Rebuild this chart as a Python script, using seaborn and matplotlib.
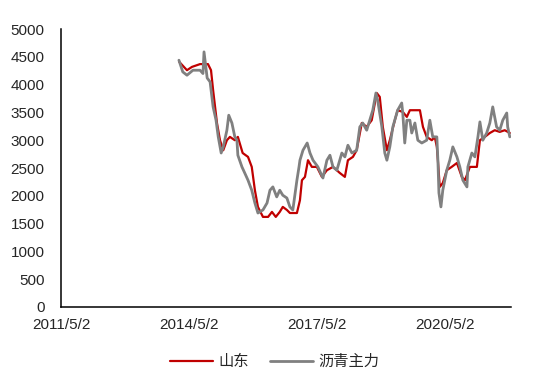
import pandas as pd
import matplotlib
matplotlib.use('Agg')
import matplotlib.pyplot as plt
import matplotlib.dates as mdates
import seaborn as sns

# 山东 (red)
sd_dates = ['2014-02-08', '2014-04-15', '2014-05-28', '2014-08-05', '2014-10-12', '2014-11-07',
            '2014-11-25', '2014-12-28', '2015-01-23', '2015-02-20', '2015-03-23', '2015-04-18',
            '2015-05-30', '2015-06-25', '2015-08-05', '2015-09-20', '2015-10-22', '2015-11-18',
            '2015-12-14', '2016-01-26', '2016-03-10', '2016-04-12', '2016-05-15', '2016-06-18',
            '2016-07-14', '2016-08-18', '2016-09-13', '2016-11-12', '2016-12-08', '2016-12-25',
            '2017-01-20', '2017-02-15', '2017-03-20', '2017-05-02', '2017-06-14', '2017-07-27',
            '2017-09-17', '2017-11-15', '2017-12-28', '2018-01-23', '2018-03-07', '2018-04-08',
            '2018-05-22', '2018-07-03', '2018-08-15', '2018-09-27', '2018-10-23', '2018-11-18',
            '2018-12-23', '2019-01-17', '2019-03-01', '2019-03-25', '2019-05-08', '2019-06-12',
            '2019-07-08', '2019-10-02', '2019-10-28', '2019-11-29', '2020-01-12', '2020-02-06',
            '2020-02-24', '2020-03-04', '2020-03-20', '2020-04-15', '2020-05-19', '2020-06-30',
            '2020-08-14', '2020-09-25', '2020-10-22', '2020-12-03', '2021-02-01', '2021-02-27',
            '2021-04-10', '2021-05-23', '2021-07-04', '2021-08-16', '2021-09-28', '2021-11-10']
sd_values = [4410, 4260, 4320, 4370, 4370, 4260,
             3900, 3310, 3000, 2820, 3000, 3060,
             3000, 3060, 2770, 2700, 2520, 2100,
             1800, 1620, 1620, 1710, 1620, 1710,
             1800, 1745, 1690, 1690, 1920, 2280,
             2340, 2640, 2520, 2520, 2340, 2460,
             2520, 2410, 2340, 2640, 2700, 2820,
             3310, 3240, 3360, 3850, 3780, 3240,
             2820, 3000, 3360, 3540, 3510, 3420,
             3540, 3540, 3240, 3060, 3000, 3060,
             2880, 2640, 2160, 2230, 2460, 2520,
             2590, 2340, 2280, 2520, 2520, 3000,
             3060, 3130, 3180, 3150, 3180, 3130]

# 沥青主力 (gray)
lq_dates = ['2014-02-05', '2014-03-10', '2014-04-15', '2014-06-05', '2014-08-05', '2014-08-30',
            '2014-09-08', '2014-10-05', '2014-10-30', '2014-11-25', '2014-12-20', '2015-01-08',
            '2015-02-02', '2015-02-20', '2015-03-23', '2015-04-08', '2015-05-05', '2015-05-30',
            '2015-06-17', '2015-06-25', '2015-07-30', '2015-08-23', '2015-09-20', '2015-10-22',
            '2015-11-18', '2015-12-14', '2016-01-26', '2016-03-01', '2016-03-26', '2016-04-20',
            '2016-05-23', '2016-06-18', '2016-07-14', '2016-08-18', '2016-09-13', '2016-10-08',
            '2016-11-12', '2016-11-30', '2016-12-08', '2017-01-03', '2017-02-08', '2017-03-04',
            '2017-03-30', '2017-05-11', '2017-06-23', '2017-07-27', '2017-08-22', '2017-09-17',
            '2017-10-20', '2017-12-02', '2017-12-28', '2018-01-23', '2018-02-26', '2018-04-08',
            '2018-05-05', '2018-05-30', '2018-07-03', '2018-07-29', '2018-08-24', '2018-09-20',
            '2018-10-05', '2018-11-10', '2018-12-05', '2018-12-23', '2019-01-17', '2019-02-12',
            '2019-03-25', '2019-04-29', '2019-05-08', '2019-05-25', '2019-06-12', '2019-07-08',
            '2019-07-24', '2019-08-20', '2019-09-14', '2019-10-18', '2019-11-29', '2019-12-26',
            '2020-01-20', '2020-02-24', '2020-03-04', '2020-03-13', '2020-03-30', '2020-04-15',
            '2020-05-19', '2020-06-14', '2020-07-10', '2020-08-14', '2020-09-08', '2020-10-04',
            '2020-11-08', '2020-11-16', '2020-12-20', '2021-01-15', '2021-02-10', '2021-02-27',
            '2021-03-24', '2021-04-26', '2021-05-23', '2021-06-17', '2021-07-20', '2021-08-16',
            '2021-09-11', '2021-10-15', '2021-10-23', '2021-11-10']
lq_values = [4440, 4230, 4170, 4260, 4260, 4200,
             4590, 4120, 4050, 3600, 3360, 3060,
             2770, 2880, 3180, 3450, 3310, 3060,
             3000, 2730, 2520, 2410, 2280, 2100,
             1870, 1690, 1745, 1870, 2100, 2160,
             1980, 2100, 2010, 1960, 1800, 1745,
             2280, 2520, 2640, 2820, 2950, 2770,
             2640, 2520, 2320, 2640, 2730, 2520,
             2460, 2770, 2700, 2910, 2770, 2820,
             3240, 3310, 3180, 3360, 3540, 3850,
             3720, 3240, 2770, 2640, 2880, 3240,
             3540, 3670, 3490, 2950, 3360, 3360,
             3130, 3310, 3000, 2950, 3000, 3360,
             3060, 3060, 2640, 2050, 1800, 2100,
             2460, 2640, 2880, 2700, 2520, 2280,
             2160, 2520, 2770, 2700, 3060, 3330,
             3000, 3130, 3310, 3600, 3240, 3180,
             3360, 3490, 3240, 3060]

tick_dates = ['2011-05-02', '2014-05-02', '2017-05-02', '2020-05-02']
x_range = ['2011-05-02', '2021-11-20']

sns.set_style("white")
plt.rcParams['font.family'] = ['Liberation Sans', 'Noto Sans CJK SC', 'DejaVu Sans']
plt.rcParams['axes.unicode_minus'] = False

sd_df = pd.DataFrame({'date': pd.to_datetime(sd_dates), 'value': sd_values})
lq_df = pd.DataFrame({'date': pd.to_datetime(lq_dates), 'value': lq_values})

fig = plt.figure(figsize=(5.5, 3.88), dpi=100)
ax = fig.add_axes([0.111, 0.209, 0.818, 0.716])

sns.lineplot(data=sd_df, x='date', y='value', color='#C00000', linewidth=1.6,
             label='山东', ax=ax)
sns.lineplot(data=lq_df, x='date', y='value', color='#808080', linewidth=2.0,
             label='沥青主力', ax=ax)

ax.set_xlim(pd.to_datetime(x_range[0]), pd.to_datetime(x_range[1]))
ax.set_ylim(0, 5000)
ax.set_yticks(range(0, 5001, 500))
ax.set_xticks(pd.to_datetime(tick_dates))
ax.xaxis.set_major_formatter(mdates.DateFormatter('%Y/%-m/%-d'))
ax.set_xlabel('')
ax.set_ylabel('')

for side in ['top', 'right']:
    ax.spines[side].set_visible(False)
for side in ['left', 'bottom']:
    ax.spines[side].set_color('black')
    ax.spines[side].set_linewidth(1.1)

ax.tick_params(axis='x', direction='out', length=3, width=1, color='black',
               labelsize=11, pad=5)
ax.tick_params(axis='y', length=0, labelsize=11, pad=12)

ax.legend(loc='center', bbox_to_anchor=(0.5, 0.067), bbox_transform=fig.transFigure,
          ncol=2, frameon=False, fontsize=11, handlelength=2.8, handletextpad=0.35,
          columnspacing=1.4)

fig.savefig('out.png', dpi=100)
